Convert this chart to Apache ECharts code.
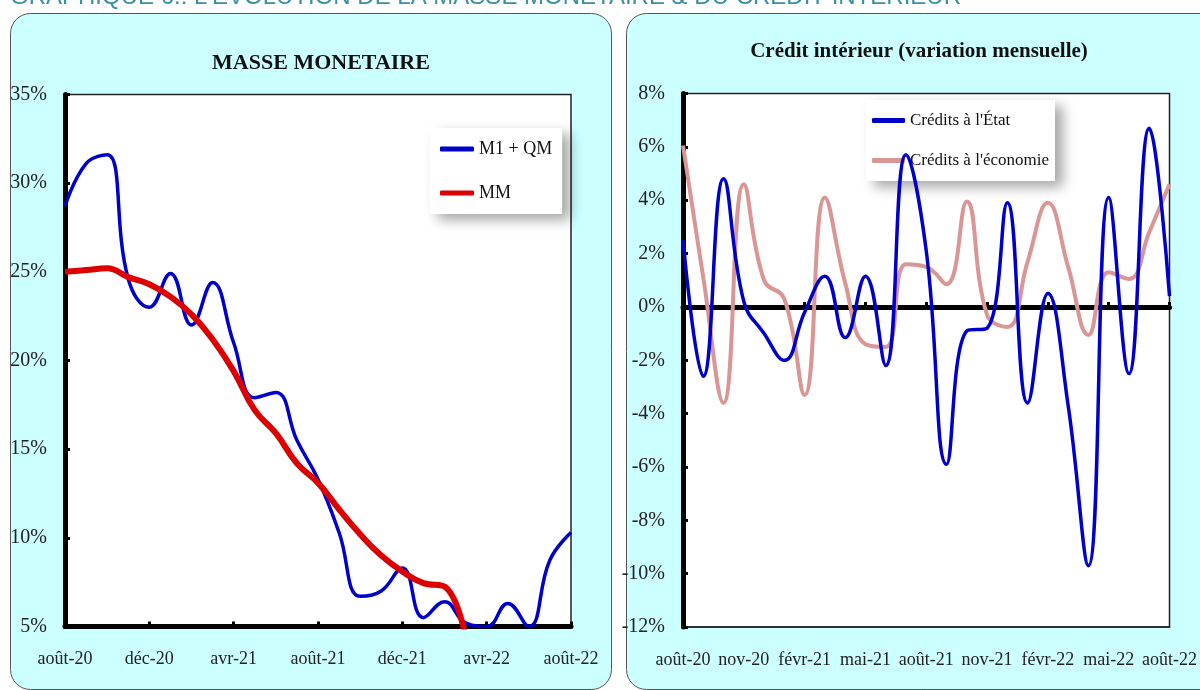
<!DOCTYPE html>
<html><head><meta charset="utf-8">
<script src="https://cdn.jsdelivr.net/npm/echarts@6/dist/echarts.min.js"></script>
<style>html,body{margin:0;padding:0;background:#fff}#c{width:1200px;height:690px}</style>
</head><body><div id="c"></div>
<script>
// ---- data ----
const months = ['août-20','sept-20','oct-20','nov-20','déc-20','janv-21','févr-21','mars-21','avr-21','mai-21','juin-21','juil-21','août-21','sept-21','oct-21','nov-21','déc-21','janv-22','févr-22','mars-22','avr-22','mai-22','juin-22','juil-22','août-22'];
const m1qm = [28.7,31.1,31.6,24.6,23.0,24.9,22.0,24.4,21.0,17.9,18.2,15.5,13.3,10.3,6.7,7.0,8.3,5.5,6.4,5.2,5.0,6.3,5.0,8.75,10.3];
const mm   = [25.0,25.1,25.2,24.7,24.3,23.6,22.6,21.2,19.4,17.2,15.9,14.2,13.1,11.6,10.2,9.0,8.1,7.45,7.25,4.4,null,null,null,null,null];
const creditEtat = [2.5,-2.6,4.8,0.2,-1.0,-2.0,-0.2,1.15,-1.15,1.15,-2.2,5.7,2.1,-5.9,-0.9,-0.8,3.9,-3.6,0.5,-3.7,-9.7,4.1,-2.5,6.7,0.4];
const creditEco  = [6.05,1.1,-3.6,4.6,1.0,0.3,-3.3,4.1,0.9,-1.4,-1.5,1.6,1.5,0.85,3.95,-0.3,-0.75,1.7,3.9,1.5,-1.05,1.3,1.05,2.8,4.6];
const leftTicks = {min:5, max:35, step:5};
const rightTicks = {min:-12, max:8, step:2};

const serif = '"Liberation Serif", "DejaVu Serif", serif';
const yLbl = {fontFamily: serif, fontSize: 20, color: '#222'};
const xLbl = {fontFamily: serif, fontSize: 18, color: '#222'};

function yAx(grid, t){
  return {
    gridIndex: grid, type:'value', min:t.min, max:t.max, interval:t.step,
    axisLine:{show:true, lineStyle:{color:'#000', width:5}},
    axisTick:{show:true, inside:true, length:5, lineStyle:{color:'#000', width:3}},
    axisLabel:Object.assign({formatter:'{value}%', margin:18}, yLbl),
    splitLine:{show:false}
  };
}

const chart = echarts.init(document.getElementById('c'));
chart.setOption({
  animation:false,
  backgroundColor:'#fff',
  graphic:[
    {type:'rect', z:-10, shape:{x:10.5,y:13.5,width:601,height:676,r:20}, style:{fill:'#ccffff', stroke:'#555', lineWidth:1}},
    {type:'rect', z:-10, shape:{x:626.5,y:13.5,width:620,height:676,r:20}, style:{fill:'#ccffff', stroke:'#555', lineWidth:1}},
    {type:'text', z:5, style:{text:"GRAPHIQUE 6.: L'EVOLUTION DE LA MASSE MONETAIRE & DU CREDIT INTERIEUR", x:10, y:9, textVerticalAlign:'bottom', verticalAlign:'bottom', font:'24px "Liberation Sans", sans-serif', fill:'#3a8fa5'}},
    {type:'text', z:5, style:{text:'MASSE MONETAIRE', x:321, y:63, textAlign:'center', align:'center', textVerticalAlign:'middle', verticalAlign:'middle', font:'bold 22px "Liberation Serif", serif', fill:'#111'}},
    {type:'text', z:5, style:{text:'Crédit intérieur (variation mensuelle)', x:919, y:52, textAlign:'center', align:'center', textVerticalAlign:'middle', verticalAlign:'middle', font:'bold 21px "Liberation Serif", serif', fill:'#111'}}
  ],
  grid:[
    {left:65, top:94.5, width:506, height:532, show:true, backgroundColor:'#fff', borderColor:'#222', borderWidth:1.5, containLabel:false},
    {left:683, top:93.5, width:491, height:533.5, show:true, backgroundColor:'#fff', borderColor:'#222', borderWidth:1.5, containLabel:false}
  ],
  xAxis:[
    {gridIndex:0, type:'category', data:months, boundaryGap:false, position:'bottom',
     axisLine:{onZero:false, lineStyle:{color:'#000', width:5}},
     axisTick:{show:true, inside:true, interval:3, length:5, lineStyle:{color:'#000', width:3}},
     axisLabel:Object.assign({interval:3, margin:24}, xLbl), splitLine:{show:false}},
    {gridIndex:1, type:'category', data:months, boundaryGap:false, position:'bottom',
     axisLine:{onZero:false, lineStyle:{color:'#222', width:1.5}},
     axisTick:{show:false},
     axisLabel:Object.assign({interval:2, margin:24}, xLbl), splitLine:{show:false}},
    {gridIndex:1, type:'category', data:months, boundaryGap:false, position:'top',
     axisLine:{onZero:true, lineStyle:{color:'#000', width:5}},
     axisTick:{show:true, inside:false, interval:2, length:5, lineStyle:{color:'#000', width:3}},
     axisLabel:{show:false}, splitLine:{show:false}}
  ],
  yAxis:[yAx(0, leftTicks), yAx(1, rightTicks)],
  legend:[
    {data:['M1 + QM','MM'], orient:'vertical', left:430, top:128, padding:[12,10,12,10], itemGap:26,
     itemWidth:34, itemHeight:5, icon:'roundRect', z:1,
     backgroundColor:'#fff', shadowBlur:12, shadowColor:'rgba(0,0,0,0.35)', shadowOffsetX:8, shadowOffsetY:6,
     textStyle:{fontFamily:serif, fontSize:18, color:'#111'}},
    {data:["Crédits à l'État","Crédits à l'économie"], orient:'vertical', left:866, top:100, padding:[12,6,12,6], itemGap:23,
     itemWidth:33, itemHeight:5, icon:'roundRect', z:1,
     backgroundColor:'#fff', shadowBlur:12, shadowColor:'rgba(0,0,0,0.35)', shadowOffsetX:8, shadowOffsetY:6,
     textStyle:{fontFamily:serif, fontSize:17, color:'#111'}}
  ],
  series:[
    {name:'M1 + QM', type:'line', xAxisIndex:0, yAxisIndex:0, data:m1qm, smooth:0.45, symbol:'none',
     lineStyle:{color:'#0000cc', width:3.5}, itemStyle:{color:'#0000cc'}},
    {name:'MM', type:'line', xAxisIndex:0, yAxisIndex:0, data:mm, smooth:0.45, symbol:'none', connectNulls:false,
     lineStyle:{color:'#dd0000', width:6}, itemStyle:{color:'#dd0000'}},
    {name:"Crédits à l'économie", type:'line', xAxisIndex:1, yAxisIndex:1, data:creditEco, smooth:0.45, symbol:'none',
     lineStyle:{color:'#d99694', width:4}, itemStyle:{color:'#d99694'}},
    {name:"Crédits à l'État", type:'line', xAxisIndex:1, yAxisIndex:1, data:creditEtat, smooth:0.45, symbol:'none',
     lineStyle:{color:'#0000cc', width:3.5}, itemStyle:{color:'#0000cc'}}
  ]
});
</script></body></html>
